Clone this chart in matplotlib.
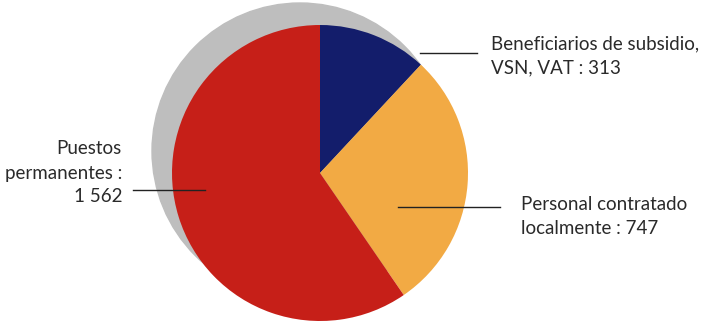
import matplotlib.pyplot as plt
from matplotlib.patches import Circle

labels = ['Beneficiarios de subsidio,\nVSN, VAT : 313',
          'Personal contratado\nlocalmente : 747',
          'Puestos\npermanentes :\n1 562']
values = [313, 747, 1562]
colors = ['#131d6b', '#f2aa44', '#c61f18']

plt.rcParams['font.family'] = ['Lato', 'DejaVu Sans']

fig = plt.figure(figsize=(7.04, 3.25), dpi=100)
ax = fig.add_axes([0, 0, 1, 1])

# shadow behind the pie
ax.add_patch(Circle((300, 174), 148, color='#bebebe', zorder=0))

ax.pie(values, colors=colors, startangle=90, counterclock=False,
       center=(320, 152), radius=148, wedgeprops=dict(linewidth=0))

ax.set_xlim(0, 704)
ax.set_ylim(0, 325)
ax.set_aspect('equal')
ax.set_axis_off()

# leader lines
ax.plot([420, 477], [272, 272], color='#222222', lw=1)
ax.plot([398, 500], [118, 118], color='#222222', lw=1)
ax.plot([133, 205], [135, 135], color='#222222', lw=1)

tk = dict(fontsize=13.5, color='#2a2a2a', va='center', linespacing=1.5)
ax.text(491, 269, labels[0], ha='left', **tk)
ax.text(521, 108, labels[1], ha='left', **tk)
ax.text(122, 152, labels[2], ha='right', **tk)

fig.savefig('out.png', dpi=100)
